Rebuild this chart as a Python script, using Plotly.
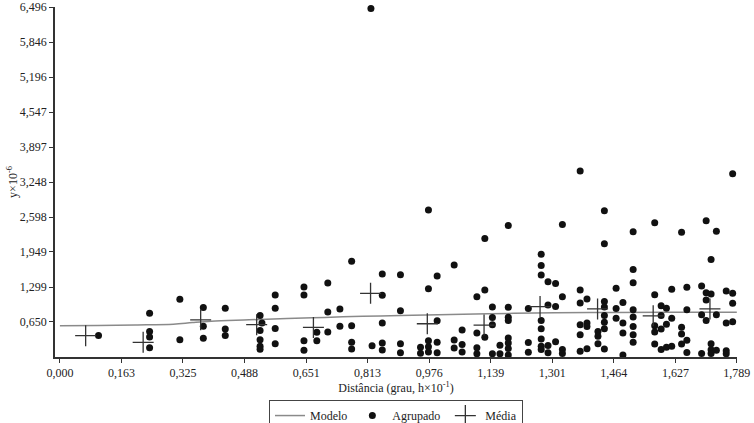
import plotly.graph_objects as go

# ---- data ----
x_tick_labels = ["0,000", "0,163", "0,325", "0,488", "0,651", "0,813", "0,976",
                 "1,139", "1,301", "1,464", "1,627", "1,789"]
y_tick_labels = ["0,650", "1,299", "1,949", "2,598", "3,248", "3,897",
                 "4,547", "5,196", "5,846", "6,496"]

modelo_x = [0.00, 0.10, 0.20, 0.30, 0.35, 0.40, 0.50, 0.60, 0.70, 0.80, 0.90,
            1.00, 1.20, 1.40, 1.60, 1.789]
modelo_y = [0.580, 0.585, 0.595, 0.610, 0.640, 0.665, 0.690, 0.715, 0.735,
            0.755, 0.770, 0.785, 0.810, 0.825, 0.830, 0.830]

media_x = [0.068, 0.220, 0.372, 0.520, 0.670, 0.821, 0.971, 1.121, 1.269,
           1.421, 1.568, 1.718]
media_y = [0.396, 0.273, 0.690, 0.600, 0.549, 1.182, 0.617, 0.593, 0.936,
           0.893, 0.764, 0.893]

agrupado_x = [
    0.102,
    0.237, 0.237, 0.237, 0.237,
    0.317, 0.317,
    0.379, 0.379, 0.379,
    0.437, 0.437, 0.437,
    0.529, 0.529, 0.529, 0.529, 0.529, 0.534,
    0.569, 0.569, 0.569, 0.569,
    0.645, 0.645, 0.645, 0.645,
    0.679, 0.679,
    0.708, 0.708, 0.708,
    0.740, 0.740,
    0.771, 0.771, 0.771, 0.771,
    0.822, 0.825,
    0.852, 0.852, 0.852, 0.852, 0.852,
    0.900, 0.900, 0.900, 0.900,
    0.953, 0.953,
    0.974, 0.974, 0.974, 0.974, 0.974,
    0.997, 0.997, 0.997, 0.997,
    1.042, 1.042, 1.042,
    1.063, 1.063, 1.063,
    1.102, 1.102, 1.102, 1.102,
    1.123, 1.123, 1.123,
    1.143, 1.143, 1.143, 1.143,
    1.163, 1.163,
    1.185, 1.185, 1.185, 1.185, 1.185, 1.185, 1.185, 1.185,
    1.238, 1.238, 1.238,
    1.272, 1.272, 1.272, 1.272, 1.272, 1.272, 1.272, 1.272,
    1.290, 1.290, 1.290, 1.290,
    1.310, 1.310, 1.310,
    1.328, 1.328, 1.328, 1.328,
    1.375, 1.375, 1.375, 1.375, 1.375, 1.375,
    1.393, 1.393, 1.393, 1.393,
    1.422, 1.422, 1.422,
    1.439, 1.439, 1.439, 1.439, 1.439, 1.439, 1.439, 1.439,
    1.470, 1.470, 1.470,
    1.488, 1.488, 1.488, 1.488,
    1.515, 1.515, 1.515, 1.515, 1.515, 1.515, 1.515, 1.515,
    1.572, 1.572, 1.572, 1.572, 1.572,
    1.589, 1.589, 1.589, 1.589,
    1.603, 1.603, 1.603,
    1.617, 1.617, 1.617,
    1.643, 1.643, 1.643, 1.643,
    1.657, 1.657, 1.657, 1.657,
    1.696, 1.696, 1.696,
    1.708, 1.708, 1.708, 1.708,
    1.721, 1.721, 1.721, 1.721, 1.721,
    1.735, 1.735, 1.735,
    1.761, 1.761, 1.761, 1.761,
    1.778, 1.778, 1.778, 1.778,
]
agrupado_y = [
    0.40,
    0.81, 0.475, 0.37, 0.17,
    1.07, 0.32,
    0.92, 0.57, 0.35,
    0.905, 0.52, 0.40,
    0.77, 0.49, 0.32, 0.20, 0.145, 0.63,
    1.15, 0.905, 0.53, 0.245,
    1.30, 1.15, 0.30, 0.125,
    0.46, 0.30,
    1.375, 0.835, 0.465,
    0.89, 0.57,
    1.775, 0.58, 0.275, 0.15,
    6.47, 0.21,
    1.54, 1.145, 0.63, 0.26, 0.13,
    1.525, 0.86, 0.245, 0.077,
    0.18, 0.068,
    2.73, 1.267, 0.30, 0.19, 0.092,
    1.505, 0.672, 0.276, 0.077,
    1.707, 0.317, 0.166,
    0.503, 0.23, 0.092,
    1.12, 0.446, 0.17, 0.06,
    2.20, 1.243, 0.368,
    0.93, 0.733, 0.60, 0.06,
    0.22, 0.06,
    2.44, 0.925, 0.737, 0.676, 0.354, 0.26, 0.16, 0.037,
    0.90, 0.27, 0.087,
    1.906, 1.70, 1.52, 0.678, 0.525, 0.335, 0.20, 0.138,
    1.396, 0.967, 0.212, 0.077,
    1.366, 0.936, 0.285,
    2.46, 1.12, 0.138, 0.064,
    3.45, 1.243, 1.0, 0.60, 0.414, 0.107,
    1.077, 0.63, 0.567, 0.153,
    0.475, 0.383, 0.245,
    2.716, 2.10, 1.03, 0.93, 0.77, 0.645, 0.525, 0.15,
    1.274, 0.90, 0.72,
    1.013, 0.63, 0.446, 0.037,
    2.324, 1.626, 1.378, 0.875, 0.742, 0.567, 0.414, 0.273,
    2.49, 1.157, 0.58, 0.464, 0.243,
    0.952, 0.768, 0.52, 0.138,
    0.906, 0.608, 0.18,
    1.256, 0.72, 0.20,
    2.317, 0.552, 0.427, 0.243,
    1.295, 0.875, 0.31, 0.083,
    1.317, 0.783, 0.064,
    2.53, 1.193, 1.059, 0.676,
    1.808, 1.169, 0.245, 0.133, 0.064,
    2.333, 0.783, 0.125,
    1.225, 0.63, 0.114, 0.059,
    3.40, 1.182, 0.998, 0.654,
]

x_tick_vals = [float(s.replace(",", ".")) for s in x_tick_labels]
y_tick_vals = [float(s.replace(",", ".")) for s in y_tick_labels]

FONT = "Liberation Serif, Times New Roman, serif"
TXT = "#222222"

fig = go.Figure()
fig.add_trace(go.Scatter(
    x=modelo_x, y=modelo_y, mode="lines", name="Modelo",
    line=dict(color="#8a8a8a", width=1.5, shape="spline"),
))
fig.add_trace(go.Scatter(
    x=agrupado_x, y=agrupado_y, mode="markers", name="Agrupado",
    marker=dict(symbol="circle", size=7, color="#111111"),
    cliponaxis=False,
))
fig.add_trace(go.Scatter(
    x=media_x, y=media_y, mode="markers", name="Média",
    marker=dict(symbol="cross-thin-open", size=15, color="#333333",
                line=dict(color="#333333", width=1.3)),
    cliponaxis=False,
))

axis_common = dict(
    tickmode="array", showgrid=False, zeroline=False,
    showline=True, linecolor="#333333", linewidth=1.5,
    ticks="outside", ticklen=4, tickcolor="#333333", tickwidth=1.2,
    tickfont=dict(family=FONT, size=12, color=TXT),
    ticklabeloverflow="allow", automargin=False,
)

fig.update_layout(
    width=754, height=423,
    margin=dict(l=55, r=17, t=7, b=66, autoexpand=False),
    paper_bgcolor="white", plot_bgcolor="white",
    font=dict(family=FONT, size=12, color=TXT),
    showlegend=True,
    legend=dict(
        orientation="h", x=0.5, xanchor="center", y=-0.123, yanchor="top",
        bordercolor="#444444", borderwidth=1, bgcolor="white",
        font=dict(family=FONT, size=12, color=TXT),
        itemwidth=30, tracegroupgap=0,
    ),
    xaxis=dict(
        range=[-0.013, 1.7895], tickvals=x_tick_vals, ticktext=x_tick_labels,
        title=dict(text="Distância (grau, h×10<sup>-1</sup>)", standoff=3,
                   font=dict(family=FONT, size=12, color=TXT)),
        **axis_common,
    ),
    yaxis=dict(
        range=[0, 6.496], tickvals=y_tick_vals, ticktext=y_tick_labels,
        title=dict(text="y×10<sup>-6</sup>", standoff=0,
                   font=dict(family=FONT, size=12, color=TXT)),
        **axis_common,
    ),
)

fig.write_html("out.html", config={"displayModeBar": False},
               post_script="document.body.style.margin='0';")
